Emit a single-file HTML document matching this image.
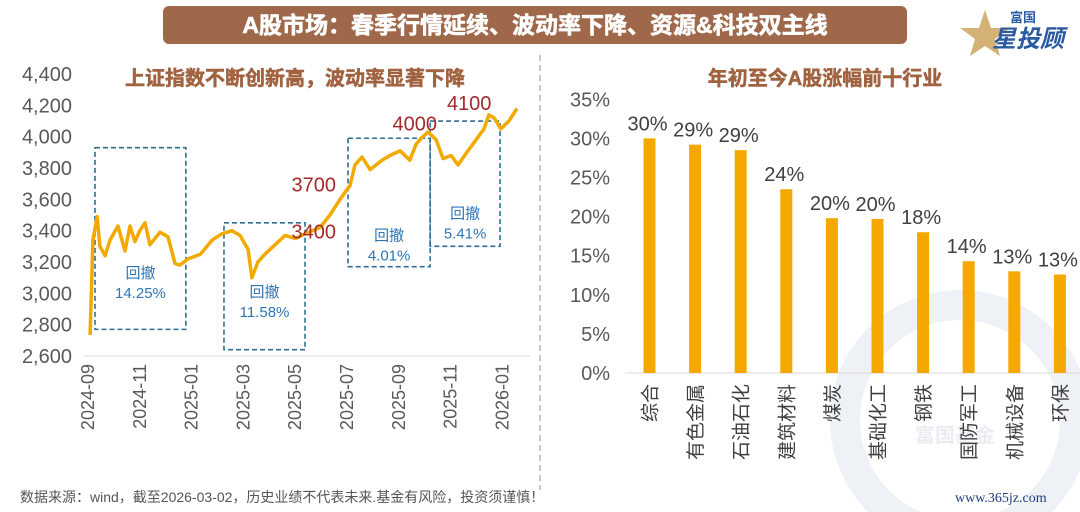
<!DOCTYPE html>
<html><head><meta charset="utf-8"><style>
body{margin:0;background:#fff;}
svg{display:block;font-family:"Liberation Sans","Noto Sans CJK SC",sans-serif;}
</style></head><body>
<svg id="c" width="1080" height="512" viewBox="0 0 1080 512" xmlns="http://www.w3.org/2000/svg">
<rect width="1080" height="512" fill="#fff"/>
<circle cx="960" cy="420" r="115" fill="none" stroke="#eef2f7" stroke-width="30"/>
<text x="915" y="442" font-size="20" font-weight="bold" fill="#e9edf2">富国基金</text>
<rect x="163" y="6" width="744" height="38" rx="6" fill="#a0684b"/>
<text x="535" y="33" font-size="23" font-weight="bold" fill="#fff" stroke="#fff" stroke-width="0.6" text-anchor="middle">A股市场：春季行情延续、波动率下降、资源&amp;科技双主线</text>
<g>
<polygon points="985,10 991,28 1010,28 995,39 1000,56 985,46 970,56 975,39 960,28 979,28" fill="#d4b276"/>
<text x="1010" y="22" font-size="13" font-weight="bold" fill="#2a5aa0">富国</text>
<text x="992" y="47" font-size="24" font-weight="bold" font-style="italic" fill="#2a5aa0">星投顾</text>
</g>
<line x1="540" y1="55" x2="540" y2="490" stroke="#c8c8c8" stroke-width="2" stroke-dasharray="6,4"/>
<text x="295" y="85" font-size="20" font-weight="bold" fill="#a0623f" stroke="#a0623f" stroke-width="0.5" text-anchor="middle">上证指数不断创新高，波动率显著下降</text>
<text x="825" y="85" font-size="20" font-weight="bold" fill="#a0623f" stroke="#a0623f" stroke-width="0.5" text-anchor="middle">年初至今A股涨幅前十行业</text>
<text x="20" y="502" font-size="14" fill="#555">数据来源：wind，截至2026-03-02，历史业绩不代表未来.基金有风险，投资须谨慎！</text>
<text x="955" y="502" font-size="14" fill="#1d3f7a" font-family="Liberation Serif,serif">www.365jz.com</text>
<g id="left"></g>
<g id="right"></g>
</svg>
<script>
const lineMonths=[0.08,0.19,0.35,0.46,0.66,0.85,1.16,1.43,1.62,1.81,2.0,2.2,2.39,2.78,3.09,3.36,3.55,3.86,4.34,4.79,5.17,5.56,5.87,6.18,6.33,6.56,6.83,7.22,7.61,8.0,8.38,8.96,9.34,9.73,10.12,10.31,10.58,10.89,11.35,11.66,12.05,12.43,12.66,12.86,13.13,13.44,13.71,14.02,14.29,14.67,14.98,15.29,15.48,15.68,15.94,16.25,16.56];
const lineValues=[2735,3340,3490,3300,3240,3340,3430,3270,3430,3330,3400,3450,3310,3390,3360,3190,3180,3220,3250,3340,3380,3400,3370,3280,3100,3200,3250,3310,3370,3350,3380,3420,3500,3600,3690,3820,3870,3790,3850,3880,3910,3850,3950,3990,4030,3980,3860,3880,3820,3910,3980,4050,4140,4120,4050,4100,4180];
const yTicks=[2600,2800,3000,3200,3400,3600,3800,4000,4200,4400];
const xTickLabels=["2024-09","2024-11","2025-01","2025-03","2025-05","2025-07","2025-09","2025-11","2026-01"];
const xTickMonths=[0,2,4,6,8,10,12,14,16];
const pullbacks=[{m0:0.27,m1:3.78,v0:2770,v1:3930,label:"14.25%",ly:3020},{m0:5.25,m1:8.38,v0:2640,v1:3450,label:"11.58%",ly:2900},{m0:10.04,m1:13.21,v0:3170,v1:3990,label:"4.01%",ly:3260},{m0:13.21,m1:15.91,v0:3300,v1:4100,label:"5.41%",ly:3400}];
const peakLabels=[{m:9.5,v:3700,t:"3700"},{m:9.5,v:3400,t:"3400"},{m:13.4,v:4090,t:"4000"},{m:15.5,v:4220,t:"4100"}];
const categories=["综合","有色金属","石油石化","建筑材料","煤炭","基础化工","钢铁","国防军工","机械设备","环保"];
const barValues=[30.0,29.2,28.5,23.5,19.8,19.7,18.0,14.3,13.0,12.6];
const barLabels=["30%","29%","29%","24%","20%","20%","18%","14%","13%","13%"];
const pctTicks=[0,5,10,15,20,25,30,35];

const NS="http://www.w3.org/2000/svg";
function mk(tag,attrs,parent,text){const e=document.createElementNS(NS,tag);for(const k in attrs)e.setAttribute(k,attrs[k]);if(text!==undefined)e.textContent=text;parent.appendChild(e);return e;}
const L=document.getElementById('left');
const xL=m=>88+m*25.9;
const yL=v=>356-(v-2600)/200*31.33;
yTicks.forEach(v=>{const t=mk('text',{x:72,y:yL(v)+7,'font-size':20,fill:'#595959','text-anchor':'end'},L,v.toLocaleString('en-US'));

});
const ax=mk('line',{x1:84,y1:356,x2:530,y2:356,stroke:'#d9d9d9','stroke-width':1},L);


xTickLabels.forEach((s,i)=>{const x=xL(xTickMonths[i]);const t=mk('text',{x:0,y:0,'font-size':18,fill:'#595959','text-anchor':'end',transform:`translate(${x+6},364) rotate(-90)`},L,s);

});
pullbacks.forEach(p=>{const r=mk('rect',{x:xL(p.m0),y:yL(p.v1),width:xL(p.m1)-xL(p.m0),height:yL(p.v0)-yL(p.v1),fill:'none',stroke:'#2e6f96','stroke-width':1.6,'stroke-dasharray':'5,3'},L);


const cx=(xL(p.m0)+xL(p.m1))/2;
const a=mk('text',{x:cx,y:yL(p.ly)-12,'font-size':15,fill:'#2e75b6','text-anchor':'middle'},L,'回撤');


const b=mk('text',{x:cx,y:yL(p.ly)+8,'font-size':15,fill:'#2e75b6','text-anchor':'middle'},L,p.label);

});
let d='';lineMonths.forEach((m,i)=>{d+=(i?'L':'M')+xL(m).toFixed(1)+','+yL(lineValues[i]).toFixed(1);});
const ln=mk('path',{d:d,fill:'none',stroke:'#f2a900','stroke-width':3.5,'stroke-linejoin':'round'},L);


peakLabels.forEach(p=>{const t=mk('text',{x:xL(p.m)+2,y:yL(p.v)+8,'font-size':20,fill:'#a32a2a','text-anchor':'end'},L,p.t);

});

const R=document.getElementById('right');
const yR=v=>373-v/5*39.1;
const xR=i=>649.5+i*45.6;
pctTicks.forEach(v=>{const t=mk('text',{x:610,y:yR(v)+7,'font-size':20,fill:'#595959','text-anchor':'end'},R,v+'%');

});
const ax2=mk('line',{x1:625,y1:373,x2:1080,y2:373,stroke:'#d9d9d9','stroke-width':1},R);


categories.forEach((c,i)=>{const x=xR(i);
const b=mk('rect',{x:x-6,y:yR(barValues[i]),width:12,height:373-yR(barValues[i]),fill:'#f5a800'},R);


const v=mk('text',{x:x-2,y:yR(barValues[i])-8,'font-size':20,fill:'#404040','text-anchor':'middle'},R,barLabels[i]);


const t=mk('text',{x:0,y:0,'font-size':19,fill:'#404040','text-anchor':'end',transform:`translate(${x+7},384) rotate(-90)`},R,c);

});
</script>
</body></html>
